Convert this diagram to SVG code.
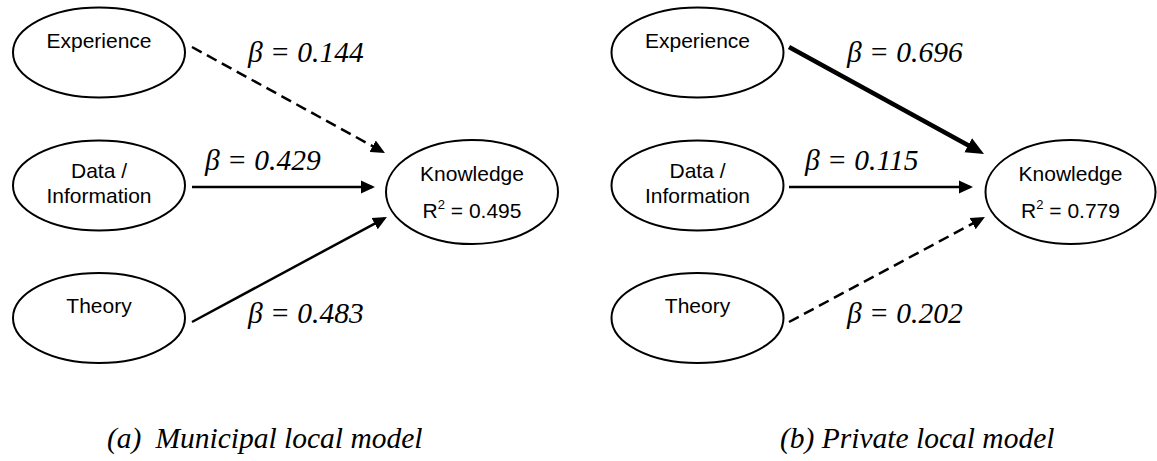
<svg xmlns="http://www.w3.org/2000/svg" width="1157" height="461" viewBox="0 0 1157 461">
<style>
.n{fill:#fff;stroke:#000;stroke-width:2}
.t{font-family:"Liberation Sans",Arial,sans-serif;font-size:21px;fill:#000;text-anchor:middle}
.b{font-family:"Liberation Serif","Times New Roman",serif;font-style:italic;font-size:29.5px;fill:#000}
.c{font-family:"Liberation Serif","Times New Roman",serif;font-style:italic;font-size:29.5px;fill:#000}
.e{fill:none;stroke:#000;stroke-width:2.5}
.d{stroke-dasharray:11 6}
.k{stroke-width:4.5}
</style>
<defs>
<marker id="ah" viewBox="0 0 10 10" refX="8" refY="5" markerWidth="14" markerHeight="14" markerUnits="userSpaceOnUse" orient="auto">
<path d="M0,0.4 L10,5 L0,9.6 z" fill="#000"/>
</marker>
<marker id="ahk" viewBox="0 0 10 10" refX="6" refY="5" markerWidth="18" markerHeight="18" markerUnits="userSpaceOnUse" orient="auto">
<path d="M0,0.6 L10,5 L0,9.4 z" fill="#000"/>
</marker>
</defs>
<g id="connectors">
<line class="e d" x1="192" y1="47" x2="382.5" y2="151.6" marker-end="url(#ah)"/>
<line class="e" x1="192" y1="187" x2="372.2" y2="187" marker-end="url(#ah)"/>
<line class="e" x1="192" y1="322" x2="384.5" y2="218.3" marker-end="url(#ah)"/>
<line class="e k" x1="789" y1="47" x2="977.7" y2="150.5" marker-end="url(#ahk)"/>
<line class="e" x1="789" y1="187" x2="970.2" y2="187" marker-end="url(#ah)"/>
<line class="e d" x1="789" y1="322" x2="982.5" y2="218.3" marker-end="url(#ah)"/>
</g>
<g id="labels">
<text class="b" x="248" y="62">β = 0.144</text>
<text class="b" x="205" y="170">β = 0.429</text>
<text class="b" x="248" y="323">β = 0.483</text>
<text class="b" x="847" y="62">β = 0.696</text>
<text class="b" x="805" y="170">β = 0.115</text>
<text class="b" x="847" y="323">β = 0.202</text>
</g>
<g id="a-experience"><ellipse class="n" cx="99" cy="52.5" rx="86" ry="45"/><text class="t" x="99" y="48">Experience</text></g>
<g id="a-data"><ellipse class="n" cx="99" cy="185.5" rx="86" ry="45"/><text class="t" x="99" y="178">Data /</text><text class="t" x="99" y="203">Information</text></g>
<g id="a-theory"><ellipse class="n" cx="99" cy="318" rx="86" ry="45"/><text class="t" x="99" y="313">Theory</text></g>
<g id="a-knowledge"><ellipse class="n" cx="472" cy="192" rx="86" ry="52"/><text class="t" x="472" y="181">Knowledge</text><text class="t" x="472" y="218">R<tspan dy="-9" font-size="13">2</tspan><tspan dy="9"> = 0.495</tspan></text></g>
<g id="b-experience"><ellipse class="n" cx="697.5" cy="52.5" rx="86" ry="45"/><text class="t" x="697.5" y="48">Experience</text></g>
<g id="b-data"><ellipse class="n" cx="697.5" cy="185.5" rx="86" ry="45"/><text class="t" x="697.5" y="178">Data /</text><text class="t" x="697.5" y="203">Information</text></g>
<g id="b-theory"><ellipse class="n" cx="697.5" cy="318" rx="86" ry="45"/><text class="t" x="697.5" y="313">Theory</text></g>
<g id="b-knowledge"><ellipse class="n" cx="1070.5" cy="192" rx="85" ry="52"/><text class="t" x="1070.5" y="181">Knowledge</text><text class="t" x="1070.5" y="218">R<tspan dy="-9" font-size="13">2</tspan><tspan dy="9"> = 0.779</tspan></text></g>
<g id="captions">
<text class="c" x="107" y="448">(a)<tspan dx="14">Municipal local model</tspan></text>
<text class="c" x="780" y="448">(b) Private local model</text>
</g>
</svg>
